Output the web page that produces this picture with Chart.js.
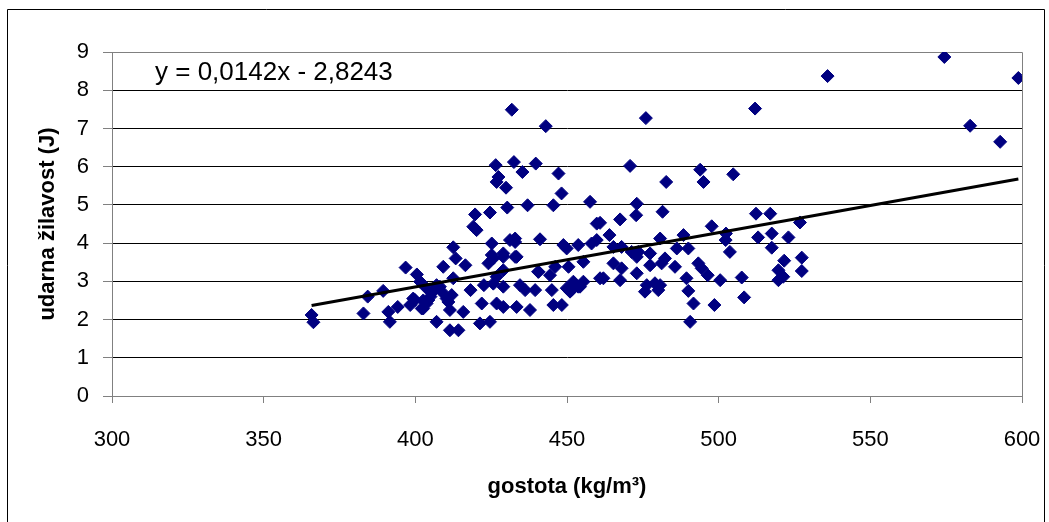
<!DOCTYPE html>
<html>
<head>
<meta charset="utf-8">
<script src="https://cdn.jsdelivr.net/npm/chart.js@4/dist/chart.umd.min.js"></script>
<style>
  html, body { margin: 0; padding: 0; background: #fff; }
  #wrap { position: relative; width: 1049px; height: 522px; }
</style>
</head>
<body>
<div id="wrap"><canvas id="myChart" width="1049" height="522"></canvas></div>
<script>
// gostota (kg/m3) vs udarna zilavost (J)
var gostota = [
  365.8, 366.4, 382.9, 384.3, 389.4, 391.1, 391.6, 394.2, 396.8, 398.3,
  399.3, 399.9, 400.5, 401.6, 402.1, 402.6, 402.6, 403.7, 403.7, 404.3,
  405.0, 406.0, 407.0, 407.0, 408.1, 408.7, 409.2, 410.3, 410.9, 411.4,
  411.4, 412.0, 412.5, 412.5, 413.3, 414.2, 415.8, 416.5, 418.2, 419.1,
  419.7, 420.2, 421.3, 421.9, 422.6, 424.1, 424.6, 424.6, 425.2, 425.2,
  425.7, 425.7, 426.5, 426.8, 426.8, 426.8, 427.4, 429.0, 429.0, 429.0,
  429.0, 429.0, 429.9, 430.3, 431.2, 431.8, 432.5, 432.9, 432.9, 432.9,
  433.4, 433.4, 434.5, 435.3, 436.2, 437.0, 437.8, 439.5, 439.7, 440.5,
  440.6, 441.1, 443.0, 444.4, 445.0, 445.5, 445.5, 446.1, 447.2, 448.2,
  448.3, 448.8, 449.9, 449.9, 450.5, 451.0, 451.5, 452.1, 452.6, 453.7,
  453.7, 454.3, 455.4, 455.4, 457.6, 458.1, 459.8, 459.8, 460.9, 460.9,
  462.0, 464.0, 465.3, 465.3, 467.5, 467.5, 468.0, 468.0, 470.8, 471.3,
  472.8, 473.0, 473.0, 473.0, 473.5, 475.7, 476.0, 476.3, 477.4, 477.4,
  479.0, 480.1, 480.7, 480.7, 481.2, 481.5, 482.3, 482.7, 485.6, 486.2,
  488.4, 489.4, 490.0, 490.0, 490.6, 491.7, 493.3, 493.9, 494.4, 495.0,
  496.4, 497.7, 498.6, 500.5, 502.4, 502.3, 503.7, 504.8, 507.6, 508.4,
  512.0, 512.3, 513.0, 517.0, 517.5, 517.5, 519.7, 519.7, 521.3, 521.6,
  523.0, 526.8, 527.4, 527.4, 535.9, 574.4, 582.9, 592.8, 598.8
];
var zilavost = [
  2.12, 1.93, 2.16, 2.60, 2.75, 2.20, 1.94, 2.33, 3.36, 2.38,
  2.55, 2.51, 3.18, 2.99, 2.29, 2.50, 2.29, 2.82, 2.42, 2.51,
  2.60, 2.75, 2.90, 1.94, 2.86, 2.73, 3.38, 2.55, 2.46, 2.25,
  1.72, 2.64, 3.08, 3.89, 3.60, 1.72, 2.20, 3.42, 2.77, 4.43,
  4.75, 4.34, 1.90, 2.42, 2.90, 3.47, 1.94, 4.80, 3.99, 3.69,
  3.60, 2.94, 6.04, 5.60, 3.12, 2.42, 5.73, 3.64, 3.29, 2.86,
  2.33, 3.73, 5.45, 4.93, 4.08, 7.49, 6.12, 4.12, 3.64, 4.03,
  2.33, 3.64, 2.90, 5.86, 2.77, 4.99, 2.25, 2.77, 6.08, 3.25,
  3.25, 4.10, 7.06, 3.16, 2.77, 4.99, 2.38, 3.38, 5.82, 5.30,
  2.38, 3.95, 3.86, 2.82, 3.38, 2.73, 2.77, 2.99, 2.90, 3.95,
  2.86, 2.86, 3.51, 2.99, 5.08, 3.99, 4.08, 4.51, 4.53, 3.08,
  3.08, 4.21, 3.90, 3.47, 4.62, 3.03, 3.90, 3.34, 6.02, 3.77,
  4.73, 5.03, 3.64, 3.21, 3.77, 2.73, 7.27, 2.90, 3.73, 3.42,
  2.95, 2.77, 4.12, 2.90, 3.47, 4.82, 3.60, 5.60, 3.38, 3.86,
  4.21, 3.08, 3.86, 2.75, 1.94, 2.42, 3.47, 5.92, 3.34, 5.60,
  3.16, 4.44, 2.38, 3.03, 4.25, 4.08, 3.77, 5.80, 3.10, 2.58,
  7.52, 4.77, 4.15, 4.77, 4.25, 3.88, 3.29, 3.03, 3.12, 3.54,
  4.15, 4.54, 3.62, 3.27, 8.37, 8.87, 7.07, 6.65, 8.32
];

// linear trend as printed on the chart
var slope = 0.0142;
var intercept = -2.8243;
var trendText = 'y = 0,0142x - 2,8243';

var xTicks = [300, 350, 400, 450, 500, 550, 600];
var yTicks = [0, 1, 2, 3, 4, 5, 6, 7, 8, 9];

var points = gostota.map(function (g, i) { return { x: g, y: zilavost[i] }; });
var xMin = Math.min.apply(null, gostota);
var xMax = Math.max.apply(null, gostota);
var trend = [
  { x: xMin, y: slope * xMin + intercept },
  { x: xMax, y: slope * xMax + intercept }
];

var FONT = 'Arial, "Liberation Sans", sans-serif';

// frame round the chart, plot-area border and the equation text
var decor = {
  id: 'decor',
  beforeDatasetsDraw: function (chart) {
    var ctx = chart.ctx, a = chart.chartArea;
    ctx.save();
    ctx.strokeStyle = '#808080';
    ctx.lineWidth = 1;
    ctx.beginPath();
    ctx.moveTo(a.left, a.top + 0.5);
    ctx.lineTo(a.right + 0.5, a.top + 0.5);
    ctx.lineTo(a.right + 0.5, a.bottom);
    ctx.stroke();
    ctx.restore();
  },
  afterDraw: function (chart) {
    var ctx = chart.ctx;
    ctx.save();
    ctx.strokeStyle = '#000';
    ctx.lineWidth = 1;
    ctx.beginPath();
    ctx.moveTo(7.5, 522);
    ctx.lineTo(7.5, 9.5);
    ctx.lineTo(1044.5, 9.5);
    ctx.lineTo(1044.5, 522);
    ctx.stroke();
    ctx.fillStyle = '#000';
    ctx.font = '26px ' + FONT;
    ctx.textBaseline = 'middle';
    ctx.fillText(trendText, 155, 73);
    ctx.restore();
  }
};

new Chart(document.getElementById('myChart'), {
  type: 'scatter',
  data: {
    datasets: [
      {
        type: 'line',
        data: trend,
        borderColor: '#000',
        borderWidth: 3,
        pointRadius: 0,
        fill: false,
        order: 0
      },
      {
        data: points,
        pointStyle: 'rectRot',
        pointRadius: 6.5,
        pointBackgroundColor: '#000080',
        pointBorderColor: '#000080',
        pointBorderWidth: 1,
        order: 1
      }
    ]
  },
  options: {
    responsive: false,
    animation: false,
    devicePixelRatio: 1,
    layout: { padding: { left: 0, right: 27, top: 52, bottom: 0 } },
    plugins: { legend: { display: false }, tooltip: { enabled: false } },
    scales: {
      x: {
        type: 'linear',
        min: 300,
        max: 600,
        afterFit: function (s) { s.height = 126; s.paddingLeft = 0; s.paddingRight = 0; },
        afterBuildTicks: function (s) { s.ticks = xTicks.map(function (v) { return { value: v }; }); },
        grid: { display: true, drawOnChartArea: false, tickLength: 7, color: '#808080' },
        border: { color: '#808080' },
        ticks: { color: '#000', padding: 24, font: { family: FONT, size: 22 }, maxRotation: 0 },
        title: {
          display: true,
          text: 'gostota (kg/m³)',
          color: '#000',
          font: { family: FONT, size: 22, weight: 'bold' },
          padding: { top: 0, bottom: 22 }
        }
      },
      y: {
        min: 0,
        max: 9,
        afterFit: function (s) { s.width = 112; s.paddingTop = 0; s.paddingBottom = 0; },
        afterBuildTicks: function (s) { s.ticks = yTicks.map(function (v) { return { value: v }; }); },
        grid: {
          color: function (c) { return c.tick && c.tick.value === 9 ? '#808080' : '#000'; },
          tickColor: '#808080',
          tickLength: 9
        },
        border: { color: '#808080' },
        ticks: { color: '#000', padding: 14, font: { family: FONT, size: 22 } },
        title: {
          display: true,
          text: 'udarna žilavost (J)',
          color: '#000',
          font: { family: FONT, size: 22, weight: 'bold' },
          padding: { top: 35, bottom: 0 }
        }
      }
    }
  },
  plugins: [decor]
});
</script>
</body>
</html>
